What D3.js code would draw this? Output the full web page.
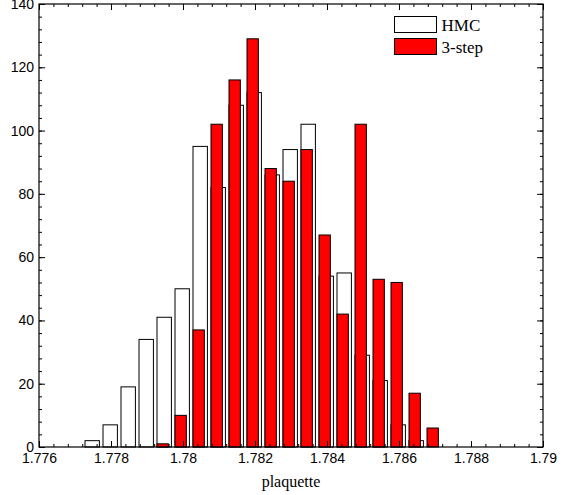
<!DOCTYPE html>
<html>
<head>
<meta charset="utf-8">
<script src="https://cdn.jsdelivr.net/npm/d3@7"></script>
<style>
  body { margin: 0; background: #fff; }
  svg { display: block; }
</style>
</head>
<body>
<div id="chart"></div>
<script>
// bin centres (plaquette) and counts
const hmcBins = [1.7775, 1.778, 1.7785, 1.779, 1.7795, 1.78, 1.7805, 1.781, 1.7815, 1.782,
  1.7825, 1.783, 1.7835, 1.784, 1.7845, 1.785, 1.7855, 1.786, 1.7865];
const hmcCounts = [2, 7, 19, 34, 41, 50, 95, 82, 108, 112, 86, 94, 102, 54, 55, 29, 21, 7, 2];

const stepBins = [1.7795, 1.78, 1.7805, 1.781, 1.7815, 1.782, 1.7825, 1.783, 1.7835, 1.784,
  1.7845, 1.785, 1.7855, 1.786, 1.7865, 1.787];
const stepCounts = [1, 10, 37, 102, 116, 129, 88, 84, 94, 67, 42, 102, 53, 52, 17, 6];

const xTicks = [1.776, 1.778, 1.78, 1.782, 1.784, 1.786, 1.788, 1.79];
const xTickLabels = ["1.776", "1.778", "1.78", "1.782", "1.784", "1.786", "1.788", "1.79"];
const yTicks = [0, 20, 40, 60, 80, 100, 120, 140];
const seriesNames = ["HMC", "3-step"];

const width = 566, height = 495;
const margin = { top: 4, right: 23, bottom: 48, left: 39 };
const w = width - margin.left - margin.right;
const h = height - margin.top - margin.bottom;

const svg = d3.select("#chart").append("svg")
  .attr("width", width)
  .attr("height", height);

const g = svg.append("g")
  .attr("transform", `translate(${margin.left},${margin.top})`);

const x = d3.scaleLinear().domain([1.776, 1.79]).range([0, w]);
const y = d3.scaleLinear().domain([0, 140]).range([h, 0]);

const hmcW = x(1.776 + 0.0004) - x(1.776);
const stepW = x(1.776 + 0.000315) - x(1.776);
const offset = x(1.776 + 0.000222) - x(1.776);

// HMC bars (white)
g.append("g")
  .selectAll("rect")
  .data(hmcBins)
  .join("rect")
  .attr("x", (d) => x(d) - offset)
  .attr("y", (d, i) => y(hmcCounts[i]))
  .attr("width", hmcW)
  .attr("height", (d, i) => y(0) - y(hmcCounts[i]))
  .attr("fill", "#fff")
  .attr("stroke", "#000")
  .attr("stroke-width", 1);

// 3-step bars (red)
g.append("g")
  .selectAll("rect")
  .data(stepBins)
  .join("rect")
  .attr("x", (d) => x(d) - offset)
  .attr("y", (d, i) => y(stepCounts[i]))
  .attr("width", stepW)
  .attr("height", (d, i) => y(0) - y(stepCounts[i]))
  .attr("fill", "#ff0000")
  .attr("stroke", "#000")
  .attr("stroke-width", 1);

// axes, ticks inward on all four sides
const xMinor = d3.range(0, 36).map((i) => 1.776 + i * 0.0004).filter((v) => v <= 1.79);
const yMinor = d3.range(0, 36).map((i) => i * 4).filter((v) => v <= 140);

function axisG(axis) {
  return g.append("g").call(axis).call((s) => s.select(".domain").remove());
}

axisG(d3.axisBottom(x).tickValues(xMinor).tickSize(-3).tickFormat(""))
  .attr("transform", `translate(0,${h})`);
axisG(d3.axisTop(x).tickValues(xMinor).tickSize(-3).tickFormat(""));
axisG(d3.axisLeft(y).tickValues(yMinor).tickSize(-3).tickFormat(""));
axisG(d3.axisRight(y).tickValues(yMinor).tickSize(-3).tickFormat(""))
  .attr("transform", `translate(${w},0)`);

const xb = axisG(d3.axisBottom(x).tickValues(xTicks).tickSize(-6).tickPadding(5)
  .tickFormat((d, i) => xTickLabels[i]))
  .attr("transform", `translate(0,${h})`);
axisG(d3.axisTop(x).tickValues(xTicks).tickSize(-6).tickFormat(""));
const yl = axisG(d3.axisLeft(y).tickValues(yTicks).tickSize(-6).tickPadding(5));
axisG(d3.axisRight(y).tickValues(yTicks).tickSize(-6).tickFormat(""))
  .attr("transform", `translate(${w},0)`);

g.selectAll(".tick line").attr("stroke", "#000");
g.selectAll(".tick text")
  .attr("font-family", "'Liberation Sans', Arial, sans-serif")
  .attr("font-size", "14px")
  .attr("fill", "#000");
xb.selectAll(".tick text").attr("dy", "0.75em");

g.append("rect")
  .attr("width", w)
  .attr("height", h)
  .attr("fill", "none")
  .attr("stroke", "#000")
  .attr("stroke-width", 1.2);

// x label
svg.append("text")
  .attr("x", margin.left + w / 2)
  .attr("y", 487)
  .attr("text-anchor", "middle")
  .attr("font-family", "'Liberation Serif', 'Times New Roman', serif")
  .attr("font-size", "16px")
  .text("plaquette");

// legend
const legend = svg.append("g").attr("transform", "translate(394.5,16.5)");
const legendFill = ["#fff", "#ff0000"];
seriesNames.forEach(function (name, i) {
  legend.append("rect")
    .attr("x", 0)
    .attr("y", i * 22)
    .attr("width", 42)
    .attr("height", 16)
    .attr("fill", legendFill[i])
    .attr("stroke", "#000");
  legend.append("text")
    .attr("x", 47)
    .attr("y", i * 22 + 14)
    .attr("font-family", "'Liberation Serif', 'Times New Roman', serif")
    .attr("font-size", "17px")
    .text(name);
});
</script>
</body>
</html>
